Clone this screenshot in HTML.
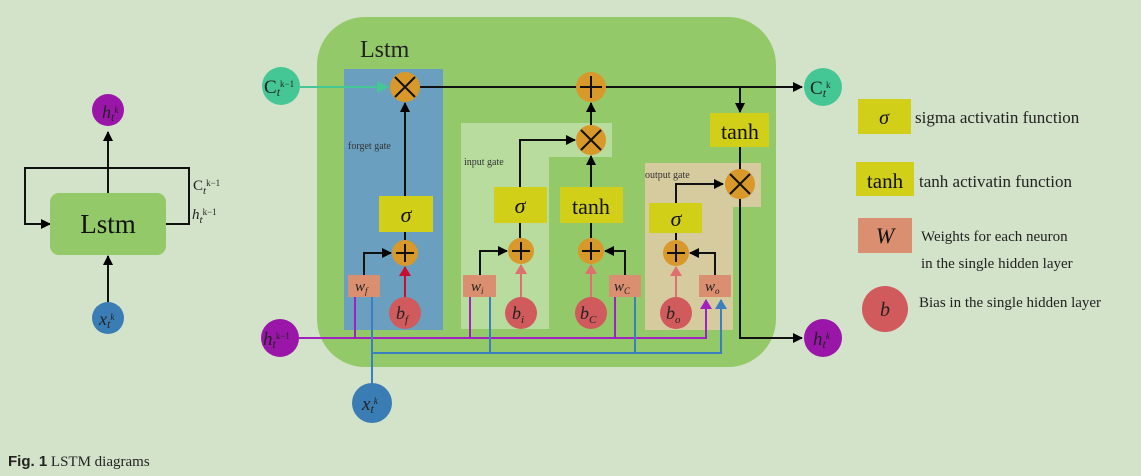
<!DOCTYPE html>
<html><head><meta charset="utf-8"><style>
body{margin:0;background:#d3e3c9;}
svg{display:block}
text{font-family:"Liberation Serif",serif;}
</style></head><body>
<svg width="1141" height="476" viewBox="0 0 1141 476" xmlns="http://www.w3.org/2000/svg">
<defs>
<marker id="ak" markerWidth="10" markerHeight="10" refX="9" refY="5" orient="auto" markerUnits="userSpaceOnUse"><path d="M0,0 L10,5 L0,10z" fill="#000"/></marker>
<marker id="ar" markerWidth="10" markerHeight="12" refX="9" refY="6" orient="auto" markerUnits="userSpaceOnUse"><path d="M0,0 L10,6 L0,12z" fill="#c8102e"/></marker>
<marker id="ap" markerWidth="10" markerHeight="12" refX="9" refY="6" orient="auto" markerUnits="userSpaceOnUse"><path d="M0,0 L10,6 L0,12z" fill="#e07070"/></marker>
<marker id="at" markerWidth="12" markerHeight="12" refX="11" refY="6" orient="auto" markerUnits="userSpaceOnUse"><path d="M0,0 L12,6 L0,12z" fill="#45c795"/></marker>
<marker id="am" markerWidth="10" markerHeight="12" refX="9" refY="6" orient="auto" markerUnits="userSpaceOnUse"><path d="M0,0 L10,6 L0,12z" fill="#a020c0"/></marker>
<marker id="ab" markerWidth="10" markerHeight="12" refX="9" refY="6" orient="auto" markerUnits="userSpaceOnUse"><path d="M0,0 L10,6 L0,12z" fill="#3a80c0"/></marker>
</defs>
<rect width="1141" height="476" fill="#d3e3c9"/>

<!-- left small diagram -->
<g stroke="#111" stroke-width="2" fill="none">
<path d="M108,193 V132" marker-end="url(#ak)"/>
<path d="M108,302 V256" marker-end="url(#ak)"/>
<path d="M166,224 H189 V168 H25 V224 H50" marker-end="url(#ak)"/>
</g>
<rect x="50" y="193" width="116" height="62" rx="9" fill="#94c96a"/>
<text x="108" y="233" font-size="27" text-anchor="middle" fill="#111">Lstm</text>
<circle cx="108" cy="110" r="16" fill="#9a16a8"/>
<text x="102" y="118" font-size="18" font-style="italic" fill="#222">h<tspan font-size="12" dy="3">t</tspan><tspan font-size="9" dy="-8">k</tspan></text>
<circle cx="108" cy="318" r="16" fill="#3a7db5"/>
<text x="99" y="325" font-size="18" font-style="italic" fill="#222">x<tspan font-size="12" dy="3">t</tspan><tspan font-size="9" dy="-8">k</tspan></text>
<text x="193" y="190" font-size="15" fill="#222">C<tspan font-size="11" font-style="italic" dy="4">t</tspan><tspan font-size="9" dy="-8">k−1</tspan></text>
<text x="192" y="219" font-size="15" font-style="italic" fill="#222">h<tspan font-size="11" dy="4">t</tspan><tspan font-size="9" dy="-8" font-style="normal">k−1</tspan></text>

<!-- big box -->
<rect x="317" y="17" width="459" height="350" rx="48" fill="#94c96a"/>
<text x="360" y="57" font-size="24" fill="#222">Lstm</text>
<rect x="344" y="69" width="99" height="261" fill="#6a9fbf"/>
<path d="M461,123 H612 V157 H549 V329 H461Z" fill="#b8dc9e"/>
<path d="M645,163 H761 V207 H733 V330 H645Z" fill="#d6cb9e"/>
<text x="348" y="149" font-size="10" fill="#333">forget gate</text>
<text x="464" y="165" font-size="10" fill="#333">input gate</text>
<text x="645" y="178" font-size="10" fill="#333">output gate</text>

<!-- connectors -->
<g stroke-width="2" fill="none">
<path d="M300,87 H388" stroke="#45c795" marker-end="url(#at)"/>
<g stroke="#111">
<path d="M420,87 H802" marker-end="url(#ak)"/>
<path d="M740,87 V112" marker-end="url(#ak)"/>
<path d="M740,147 V169"/>
<path d="M740,199 V338 H802" marker-end="url(#ak)"/>
<path d="M405,196 V103" marker-end="url(#ak)"/>
<path d="M405,232 V240"/>
<path d="M364,275 V253 H391" marker-end="url(#ak)"/>
<path d="M520,187 V140 H575" marker-end="url(#ak)"/>
<path d="M520,223 V238"/>
<path d="M480,275 V251 H507" marker-end="url(#ak)"/>
<path d="M591,187 V156" marker-end="url(#ak)"/>
<path d="M591,125 V103" marker-end="url(#ak)"/>
<path d="M591,223 V238"/>
<path d="M625,275 V251 H605" marker-end="url(#ak)"/>
<path d="M676,203 V184 H723" marker-end="url(#ak)"/>
<path d="M676,233 V240"/>
<path d="M715,275 V253 H690" marker-end="url(#ak)"/>
</g>
<path d="M405,297 V267" stroke="#c8102e" marker-end="url(#ar)"/>
<path d="M521,297 V265" stroke="#e07070" marker-end="url(#ap)"/>
<path d="M591,297 V265" stroke="#e07070" marker-end="url(#ap)"/>
<path d="M676,297 V267" stroke="#e07070" marker-end="url(#ap)"/>
<g stroke="#a020c0">
<path d="M299,338 H706 V300" marker-end="url(#am)"/>
<path d="M355,297 V338 M470,297 V338 M615,297 V338"/>
</g>
<g stroke="#3a80c0">
<path d="M372,297 V384"/>
<path d="M372,353 H721 V300" marker-end="url(#ab)"/>
<path d="M490,297 V353 M635,297 V353"/>
</g>
</g>

<!-- yellow boxes -->
<g fill="#d2cf18">
<rect x="379" y="196" width="54" height="36"/>
<rect x="494" y="187" width="53" height="36"/>
<rect x="560" y="187" width="63" height="36"/>
<rect x="649" y="203" width="53" height="30"/>
<rect x="710" y="113" width="59" height="34"/>
</g>
<g font-size="22" text-anchor="middle" fill="#111">
<text x="406" y="222" font-style="italic">σ</text>
<text x="520" y="213" font-style="italic">σ</text>
<text x="591" y="214">tanh</text>
<text x="676" y="226" font-style="italic">σ</text>
<text x="740" y="139">tanh</text>
</g>

<!-- orange ops -->
<g fill="#d8982a" stroke="none">
<circle cx="405" cy="87" r="15"/><circle cx="591" cy="87" r="15"/>
<circle cx="591" cy="140" r="15"/><circle cx="740" cy="184" r="15"/>
<circle cx="405" cy="253" r="13"/><circle cx="521" cy="251" r="13"/>
<circle cx="591" cy="251" r="13"/><circle cx="676" cy="253" r="13"/>
</g>
<g stroke="#111" stroke-width="2">
<path d="M395,77 L415,97 M415,77 L395,97"/>
<path d="M581,130 L601,150 M601,130 L581,150"/>
<path d="M730,174 L750,194 M750,174 L730,194"/>
<path d="M591,76 V98 M580,87 H602"/>
<path d="M405,244 V262 M396,253 H414"/>
<path d="M521,242 V260 M512,251 H530"/>
<path d="M591,242 V260 M582,251 H600"/>
<path d="M676,244 V262 M667,253 H685"/>
</g>

<!-- w boxes -->
<g fill="#d98f70">
<rect x="348" y="275" width="32" height="22"/>
<rect x="463" y="275" width="33" height="22"/>
<rect x="609" y="275" width="32" height="22"/>
<rect x="699" y="275" width="32" height="22"/>
</g>
<g font-size="15" font-style="italic" fill="#222">
<text x="355" y="291">w<tspan font-size="9" dy="3">f</tspan></text>
<text x="471" y="291">w<tspan font-size="9" dy="3">i</tspan></text>
<text x="614" y="291">w<tspan font-size="9" dy="3">C</tspan></text>
<text x="705" y="291">w<tspan font-size="9" dy="3">o</tspan></text>
</g>
<!-- b circles -->
<g fill="#d15a5c">
<circle cx="405" cy="313" r="16"/><circle cx="521" cy="313" r="16"/>
<circle cx="591" cy="313" r="16"/><circle cx="676" cy="313" r="16"/>
</g>
<g font-size="18" font-style="italic" fill="#222">
<text x="396" y="319">b<tspan font-size="11" dy="4">f</tspan></text>
<text x="512" y="319">b<tspan font-size="11" dy="4">i</tspan></text>
<text x="580" y="319">b<tspan font-size="11" dy="4">C</tspan></text>
<text x="666" y="319">b<tspan font-size="11" dy="4">o</tspan></text>
</g>

<!-- io circles -->
<circle cx="281" cy="86" r="19" fill="#45c795"/>
<text x="264" y="93" font-size="19" fill="#222">C<tspan font-size="12" font-style="italic" dy="3">t</tspan><tspan font-size="9" dy="-9">k−1</tspan></text>
<circle cx="280" cy="338" r="19" fill="#9a16a8"/>
<text x="263" y="345" font-size="19" font-style="italic" fill="#222">h<tspan font-size="12" dy="3">t</tspan><tspan font-size="9" dy="-9" font-style="normal">k−1</tspan></text>
<circle cx="372" cy="403" r="20" fill="#3a7db5"/>
<text x="362" y="410" font-size="19" font-style="italic" fill="#222">x<tspan font-size="12" dy="3">t</tspan><tspan font-size="9" dy="-9">k</tspan></text>
<circle cx="823" cy="87" r="19" fill="#45c795"/>
<text x="810" y="94" font-size="19" fill="#222">C<tspan font-size="12" font-style="italic" dy="3">t</tspan><tspan font-size="9" dy="-9">k</tspan></text>
<circle cx="823" cy="338" r="19" fill="#9a16a8"/>
<text x="813" y="345" font-size="19" font-style="italic" fill="#222">h<tspan font-size="12" dy="3">t</tspan><tspan font-size="9" dy="-9">k</tspan></text>

<!-- legend -->
<rect x="858" y="99" width="53" height="35" fill="#d2cf18"/>
<text x="884" y="124" font-size="20" font-style="italic" text-anchor="middle" fill="#111">σ</text>
<text x="915" y="123" font-size="17" fill="#222">sigma activatin function</text>
<rect x="856" y="162" width="58" height="34" fill="#d2cf18"/>
<text x="885" y="188" font-size="21" text-anchor="middle" fill="#111">tanh</text>
<text x="919" y="187" font-size="17" fill="#222">tanh activatin function</text>
<rect x="858" y="218" width="54" height="35" fill="#d98f70"/>
<text x="885" y="243" font-size="22" font-style="italic" text-anchor="middle" fill="#111">W</text>
<text x="921" y="241" font-size="15" fill="#222">Weights for each neuron</text>
<text x="921" y="268" font-size="15" fill="#222">in the single hidden layer</text>
<circle cx="885" cy="309" r="23" fill="#d15a5c"/>
<text x="885" y="316" font-size="20" font-style="italic" text-anchor="middle" fill="#222">b</text>
<text x="919" y="307" font-size="15" fill="#222">Bias in the single hidden layer</text>

<text x="8" y="466" font-size="15" fill="#222"><tspan font-family="Liberation Sans,sans-serif" font-weight="bold">Fig. 1</tspan>  LSTM diagrams</text>
</svg>
</body></html>
